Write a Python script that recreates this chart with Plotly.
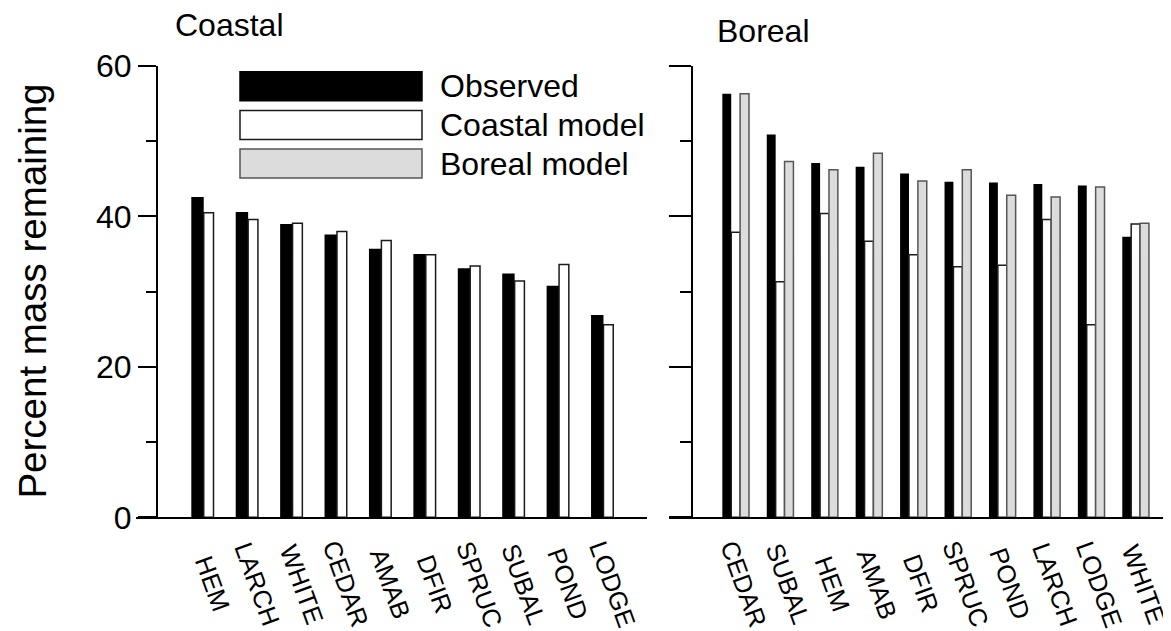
import plotly.graph_objects as go

# The page body adds an 8px margin, so the figure is drawn 8px in from the
# window's top-left corner; all layout pixel positions below are given in
# window pixels and converted.
WIN_W, WIN_H = 1171, 631
OFF = 8
W, H = WIN_W - OFF, WIN_H - OFF

# ---- data ----
coastal_species = ["HEM", "LARCH", "WHITE", "CEDAR", "AMAB", "DFIR", "SPRUC", "SUBAL", "POND", "LODGE"]
coastal_observed = [42.6, 40.6, 39.0, 37.6, 35.7, 35.0, 33.1, 32.4, 30.8, 26.9]
coastal_coastal_model = [40.5, 39.6, 39.1, 38.0, 36.8, 34.9, 33.4, 31.4, 33.6, 25.6]

boreal_species = ["CEDAR", "SUBAL", "HEM", "AMAB", "DFIR", "SPRUC", "POND", "LARCH", "LODGE", "WHITE"]
boreal_observed = [56.3, 50.9, 47.1, 46.6, 45.7, 44.6, 44.5, 44.3, 44.1, 37.3]
boreal_coastal_model = [37.9, 31.3, 40.4, 36.7, 34.9, 33.3, 33.5, 39.6, 25.6, 39.0]
boreal_boreal_model = [56.3, 47.3, 46.2, 48.4, 44.7, 46.2, 42.8, 42.6, 43.9, 39.1]

y_ticks = [0, 20, 40, 60]
legend_labels = ["Observed", "Coastal model", "Boreal model"]

FONT = "Arial, Liberation Sans, Helvetica, sans-serif"
OBS_COLOR = "black"
COAST_FILL, COAST_LINE = "white", "#1a1a1a"
BOR_FILL, BOR_LINE = "#dcdcdc", "#555555"


def px(x):
    return (x - OFF) / W


def py(y):
    return 1 - (y - OFF) / H


fig = go.Figure()

# left panel (Coastal)
fig.add_trace(go.Bar(x=coastal_species, y=coastal_observed, width=0.28, offset=-0.28,
                     marker=dict(color=OBS_COLOR, line=dict(width=0)),
                     xaxis="x", yaxis="y", showlegend=False))
fig.add_trace(go.Bar(x=coastal_species, y=coastal_coastal_model, width=0.22, offset=0.0,
                     marker=dict(color=COAST_FILL, line=dict(color=COAST_LINE, width=1.5)),
                     xaxis="x", yaxis="y", showlegend=False))

# right panel (Boreal)
fig.add_trace(go.Bar(x=boreal_species, y=boreal_observed, width=0.2, offset=-0.3,
                     marker=dict(color=OBS_COLOR, line=dict(width=0)),
                     xaxis="x2", yaxis="y2", showlegend=False))
fig.add_trace(go.Bar(x=boreal_species, y=boreal_coastal_model, width=0.2, offset=-0.1,
                     marker=dict(color=COAST_FILL, line=dict(color=COAST_LINE, width=1.5)),
                     xaxis="x2", yaxis="y2", showlegend=False))
fig.add_trace(go.Bar(x=boreal_species, y=boreal_boreal_model, width=0.2, offset=0.1,
                     marker=dict(color=BOR_FILL, line=dict(color=BOR_LINE, width=1.5)),
                     xaxis="x2", yaxis="y2", showlegend=False))

ydom = [py(517.3), py(66)]

axis_common = dict(showgrid=False, zeroline=False, showline=True, linecolor="black",
                   linewidth=2, ticks="", showticklabels=False, fixedrange=True,
                   automargin=False)

yaxis_common = dict(range=[0, 60], domain=ydom, showgrid=False, zeroline=False,
                    showline=True, linecolor="black", linewidth=2,
                    tickmode="array", tickvals=y_ticks, ticks="outside",
                    tickcolor="black", tickwidth=2, anchor="free",
                    automargin=False, fixedrange=True)

fig.update_layout(
    width=W, height=H,
    margin=dict(l=0, r=0, t=0, b=0, pad=0, autoexpand=False),
    paper_bgcolor="white", plot_bgcolor="rgba(0,0,0,0)",
    barmode="overlay",
    showlegend=False,
    font=dict(family=FONT, color="black"),
    xaxis=dict(axis_common, domain=[px(136), px(647)], type="category",
               categoryorder="array", categoryarray=coastal_species,
               range=[-1.525, 9.98], anchor="y"),
    yaxis=dict(yaxis_common, position=px(157), ticklen=18,
               showticklabels=True, ticktext=[str(v) for v in y_ticks],
               tickfont=dict(size=32, family=FONT),
               minor=dict(dtick=10, tick0=0, ticks="outside", ticklen=10,
                          tickcolor="black", tickwidth=2)),
    xaxis2=dict(axis_common, domain=[px(669), 1.0], type="category",
                categoryorder="array", categoryarray=boreal_species,
                range=[-1.5, 9.796], anchor="y2"),
    yaxis2=dict(yaxis_common, position=px(691.7), ticklen=22, showticklabels=False,
                minor=dict(dtick=10, tick0=0, ticks="outside", ticklen=11,
                           tickcolor="black", tickwidth=2)),
)

annotations = []
# x category labels (rotated, centred)
label_y = py(584)
LABEL_ANGLE = 70
LABEL_SIZE = 25.5
for sp in coastal_species:
    annotations.append(dict(x=sp, xref="x", y=label_y, yref="paper", text=sp,
                            textangle=LABEL_ANGLE, showarrow=False, xanchor="center",
                            yanchor="middle", xshift=9, borderpad=0,
                            font=dict(size=LABEL_SIZE, family=FONT, color="black")))
for sp in boreal_species:
    annotations.append(dict(x=sp, xref="x2", y=label_y, yref="paper", text=sp,
                            textangle=LABEL_ANGLE, showarrow=False, xanchor="center",
                            yanchor="middle", xshift=8, borderpad=0,
                            font=dict(size=LABEL_SIZE, family=FONT, color="black")))

# y axis title
annotations.append(dict(x=px(33), y=py(291.6), xref="paper", yref="paper",
                        text="Percent mass remaining", textangle=-90, showarrow=False,
                        xanchor="center", yanchor="middle",
                        font=dict(size=38.5, family=FONT, color="black")))

# panel titles
annotations.append(dict(x=px(173), y=py(25), xref="paper", yref="paper", text="Coastal",
                        showarrow=False, xanchor="left", yanchor="middle",
                        font=dict(size=32, family=FONT, color="black")))
annotations.append(dict(x=px(715), y=py(31), xref="paper", yref="paper", text="Boreal",
                        showarrow=False, xanchor="left", yanchor="middle",
                        font=dict(size=32, family=FONT, color="black")))

# legend (manual swatches)
shapes = []
legend_styles = [(OBS_COLOR, OBS_COLOR), (COAST_FILL, COAST_LINE), (BOR_FILL, BOR_LINE)]
box_top0 = 71.7
for i, (lab, (fill, line)) in enumerate(zip(legend_labels, legend_styles)):
    top = box_top0 + i * 38.7
    bot = top + 29
    shapes.append(dict(type="rect", xref="paper", yref="paper",
                       x0=px(240), x1=px(422), y0=py(bot), y1=py(top),
                       fillcolor=fill, line=dict(color=line, width=1.5)))
    annotations.append(dict(x=px(438), y=py((top + bot) / 2), xref="paper", yref="paper",
                            text=lab, showarrow=False, xanchor="left", yanchor="middle",
                            font=dict(size=32, family=FONT, color="black")))

fig.update_layout(annotations=annotations, shapes=shapes)

fig.write_html("out.html")
